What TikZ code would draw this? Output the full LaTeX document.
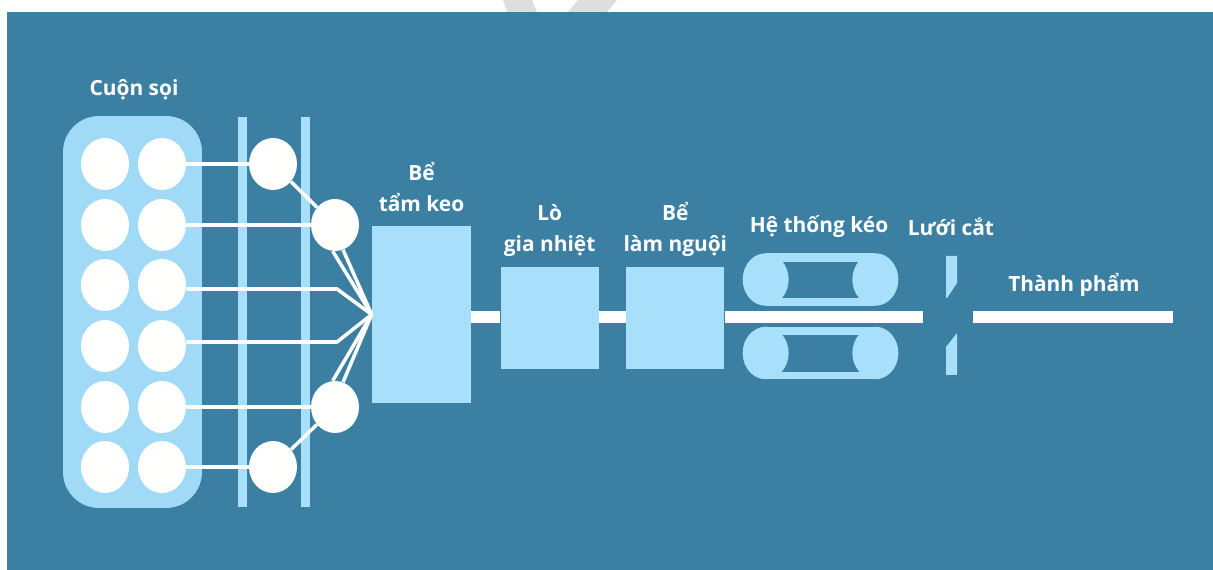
\documentclass[tikz,border=0pt]{standalone}
\usepackage{fontspec}
\setmainfont{Open Sans}
\usepackage{tikz}
\usetikzlibrary{positioning, shapes.geometric}
\definecolor{bgblue}{HTML}{3B80A3}
\definecolor{lightblue}{HTML}{A8DFFB}
\definecolor{pillblue}{HTML}{A0DAF7}
\definecolor{milk}{HTML}{FFFFFD}
\definecolor{wmgray}{HTML}{DEDEDE}
\tikzset{
    lbl/.style={text=white, font=\fontsize{11.9}{17.6}\selectfont\bfseries, align=center, inner sep=0pt},
    block/.style={fill=lightblue, inner sep=0pt},
    spool/.style={ellipse, fill=milk, inner sep=0pt, minimum width=0.96cm, minimum height=1.04cm},
    guide/.style={block, minimum width=0.18cm, minimum height=7.8cm},
    fibre/.style={draw=milk, line width=2pt},
    rod/.style={draw=milk, line width=6.8pt},
    belt/.style={block, minimum width=2.18cm, minimum height=1.05cm},
    gap/.style={fill=bgblue, inner sep=0pt, minimum width=1.8cm, minimum height=0.73cm},
    pulley/.style={ellipse, block, minimum width=0.92cm, minimum height=1.05cm}
}
\begin{document}
\begin{tikzpicture}[x=0.02cm, y=-0.02cm]
    \useasboundingbox (0,0) rectangle (1213,570);
    \fill[wmgray] (503,0) -- (532,0) -- (537,12) -- (507,12) -- cycle;
    \fill[wmgray] (578,0) -- (617,0) -- (607,12) -- (568,12) -- cycle;
    \fill[bgblue] (7,12) rectangle (1213,570);

    \node[block, rounded corners=0.72cm, fill=pillblue, minimum width=2.78cm, minimum height=7.84cm] (pack) at (132.5,312) {};
    \node[guide] (rail1) at (242.5,312) {};
    \node[guide, right=1.06cm of rail1] (rail2) {};
    \foreach \r/\y in {1/164, 2/225, 3/285, 4/346, 5/407, 6/467} {
        \node[spool] (a\r) at (105,\y) {};
        \node[spool] (b\r) at (162,\y) {};
    }
    \node[spool] (roll1) at (273,164) {};
    \node[spool] (roll2) at (335,225) {};
    \node[spool] (roll3) at (335,407) {};
    \node[spool] (roll4) at (273,467) {};

    \node[block, minimum width=1.98cm, minimum height=3.54cm] (tank) at (421.5,314.5) {};
    \node[block, right=0.58cm of tank, yshift=-0.07cm, minimum width=1.96cm, minimum height=2.04cm] (oven) {};
    \node[block, right=0.54cm of oven, minimum width=1.96cm, minimum height=2.04cm] (cool) {};

    \coordinate (cutin) at (923,317);
    \coordinate (prodin) at (973,317);
    \coordinate (prodout) at (1173,317);
    \coordinate (bend3) at (337,289);
    \coordinate (bend4) at (337,342);

    \draw[rod] (tank.east |- cutin) -- (oven.west |- cutin);
    \draw[rod] (oven.east |- cutin) -- (cool.west |- cutin);
    \draw[rod] (cool.east |- cutin) -- (cutin);
    \draw[rod] (prodin) -- (prodout);

    \node[belt] (beltup) at (820.5,279.5) {};
    \node[gap] (gapup) at (820.5,280) {};
    \node[pulley] (pull1) at (beltup.west) {};
    \node[pulley] (pull2) at (beltup.east) {};
    \node[belt] (beltdn) at (820.5,353) {};
    \node[gap] (gapdn) at (820.5,353.5) {};
    \node[pulley] (pull3) at (beltdn.west) {};
    \node[pulley] (pull4) at (beltdn.east) {};

    \fill[lightblue] (946,256) -- (957,256) -- (957,283) -- (947,298) -- (946,298) -- cycle;
    \fill[lightblue] (957,333) -- (946,347) -- (946,375) -- (957,375) -- cycle;

    \draw[fibre] (b1.east) -- (roll1.west);
    \draw[fibre] (b2.east) -- (roll2.west);
    \draw[fibre] ([yshift=-0.08cm]b3.east) -- (bend3) -- (tank.west);
    \draw[fibre] ([yshift=0.08cm]b4.east) -- (bend4) -- (tank.west);
    \draw[fibre] (b5.east) -- (roll3.west);
    \draw[fibre] (b6.east) -- (roll4.west);
    \draw[fibre] (roll1) -- (roll2);
    \draw[fibre] (roll4) -- (roll3);
    \draw[fibre] (roll2.-95) -- (tank.west);
    \draw[fibre] (roll2.-72) -- (tank.west);
    \draw[fibre] (roll3.95) -- (tank.west);
    \draw[fibre] (roll3.72) -- (tank.west);

    \node[lbl] (packlbl) at (134,90) {Cuộn sọi};
    \node[lbl, above=0.28cm of tank] (tanklbl) {Bể\\tẩm keo};
    \node[lbl, above=0.19cm of oven] (ovenlbl) {Lò\\gia nhiệt};
    \node[lbl, above=0.19cm of cool] (coollbl) {Bể\\làm nguội};
    \node[lbl] (beltlbl) at (819,227) {Hệ thống kéo};
    \node[lbl] (cutlbl) at (951,227) {Lưới cắt};
    \node[lbl] (prodlbl) at (1074,285) {Thành phẩm};
\end{tikzpicture}
\end{document}
